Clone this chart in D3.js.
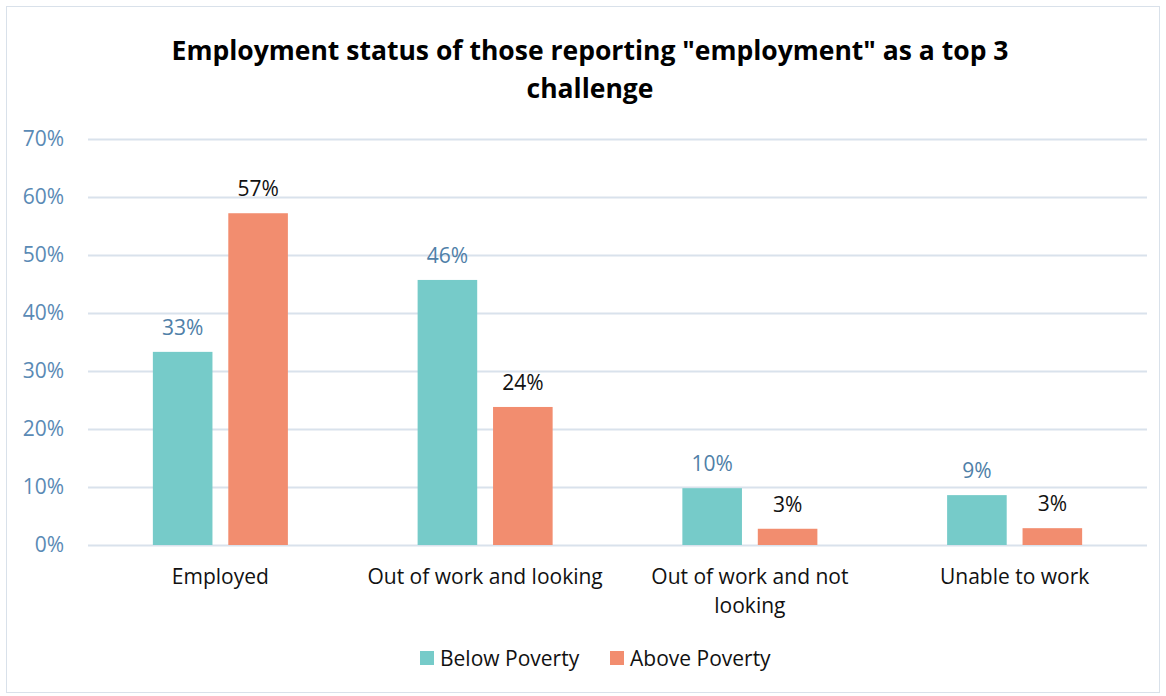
<!DOCTYPE html>
<html>
<head>
<meta charset="utf-8">
<script src="https://cdn.jsdelivr.net/npm/d3@7"></script>
<style>
  html, body { margin: 0; padding: 0; background: #ffffff; }
  svg { display: block; font-family: "Open Sans", Lato, sans-serif; }
</style>
</head>
<body>
<svg id="chart" width="1166" height="696"></svg>
<script>
// Share of respondents by employment status, split by poverty status
const categories = [["Employed"], ["Out of work and looking"], ["Out of work and not", "looking"], ["Unable to work"]];
const seriesNames = ["Below Poverty", "Above Poverty"];
const belowPoverty = [0.333, 0.457, 0.098, 0.086];
const abovePoverty = [0.572, 0.238, 0.028, 0.029];
const yTicks = [0, 0.1, 0.2, 0.3, 0.4, 0.5, 0.6, 0.7];

const colors = ["#76cbc9", "#f28d6f"];
const labelColors = ["#4f7fa8", "#111111"];
const fontStack = "'Open Sans', Lato, sans-serif";
const labelSize = 21;

const svg = d3.select("#chart");
const W = 1166, H = 696;
const margin = { left: 88, right: 19, top: 139, bottom: 151 };

// Outer frame
svg.append("rect")
  .attr("x", 6.5).attr("y", 6.5)
  .attr("width", W - 13).attr("height", H - 10)
  .attr("fill", "#fff").attr("stroke", "#d9e1ea").attr("stroke-width", 1);

// Title
const title = svg.append("text")
  .attr("text-anchor", "middle")
  .attr("font-weight", "bold")
  .attr("font-size", 26.5)
  .attr("fill", "#000");
title.append("tspan").attr("x", 590).attr("y", 60).text('Employment status of those reporting "employment" as a top 3');
title.append("tspan").attr("x", 590).attr("y", 98).text("challenge");

const x0 = d3.scaleBand()
  .domain(d3.range(categories.length))
  .range([margin.left, W - margin.right])
  .paddingInner(0.49)
  .paddingOuter(0.245);

const x1 = d3.scaleBand()
  .domain(d3.range(seriesNames.length))
  .range([0, x0.bandwidth()])
  .paddingInner(0.21);

const y = d3.scaleLinear()
  .domain([0, 0.7])
  .range([H - margin.bottom, margin.top]);

// Gridlines and y tick labels
const yAxis = d3.axisLeft(y)
  .tickValues(yTicks)
  .tickFormat(d3.format(".0%"))
  .tickSize(-(W - margin.left - margin.right))
  .tickPadding(24);

const gy = svg.append("g")
  .attr("transform", `translate(${margin.left},0)`)
  .call(yAxis);
gy.select(".domain").remove();
gy.selectAll(".tick line").attr("stroke", "#d9e2ec").attr("stroke-width", 2);
gy.selectAll(".tick text")
  .attr("fill", "#5a8ab5")
  .attr("font-size", labelSize)
  .attr("font-family", fontStack);

// Bars
const series = [belowPoverty, abovePoverty];
const groups = svg.append("g")
  .selectAll("g")
  .data(categories.map((c, i) => i))
  .join("g")
  .attr("transform", i => `translate(${x0(i)},0)`);

groups.selectAll("rect")
  .data(i => series.map((s, k) => ({ k, v: s[i] })))
  .join("rect")
  .attr("x", d => x1(d.k))
  .attr("width", x1.bandwidth())
  .attr("y", d => y(d.v))
  .attr("height", d => y(0) - y(d.v))
  .attr("fill", d => colors[d.k]);

// Value labels
groups.selectAll("text.val")
  .data(i => series.map((s, k) => ({ k, v: s[i] })))
  .join("text")
  .attr("class", "val")
  .attr("x", d => x1(d.k) + x1.bandwidth() / 2)
  .attr("y", d => y(d.v) - 17)
  .attr("text-anchor", "middle")
  .attr("font-size", labelSize)
  .attr("fill", d => labelColors[d.k])
  .text(d => d3.format(".0%")(d.v));

// Category labels
const catLabels = svg.append("g")
  .selectAll("text")
  .data(categories)
  .join("text")
  .attr("text-anchor", "middle")
  .attr("font-size", labelSize)
  .attr("fill", "#111");
catLabels.each(function (lines, i) {
  const t = d3.select(this);
  lines.forEach((ln, j) => {
    t.append("tspan")
      .attr("x", x0(i) + x0.bandwidth() / 2)
      .attr("y", y(0) + 39 + j * 29)
      .text(ln);
  });
});

// Legend
const legendX = [420, 610];
const legend = svg.append("g")
  .selectAll("g")
  .data(seriesNames)
  .join("g")
  .attr("transform", (d, i) => `translate(${legendX[i]},651)`);
legend.append("rect")
  .attr("width", 14).attr("height", 14)
  .attr("fill", (d, i) => colors[i]);
legend.append("text")
  .attr("x", 20).attr("y", 15)
  .attr("font-size", labelSize)
  .attr("fill", "#111")
  .text(d => d);
</script>
</body>
</html>
